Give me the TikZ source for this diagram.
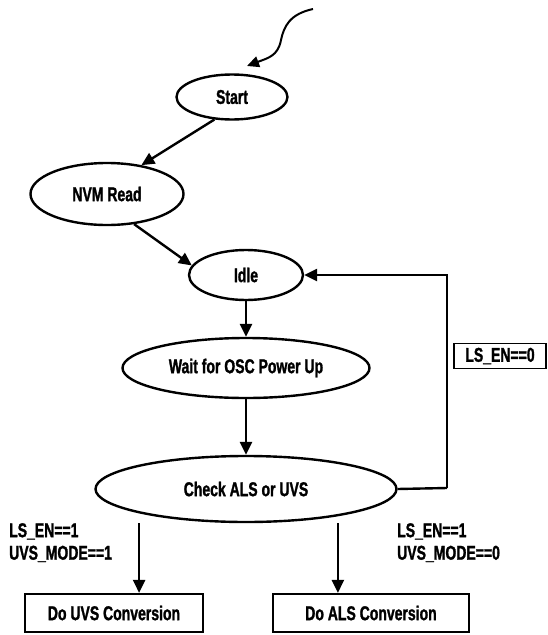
\documentclass[tikz,border=0pt]{standalone}
\usepackage{fontspec}
\setmainfont{Liberation Sans}[FakeStretch=0.7,BoldFeatures={FakeBold=1.3}]
\usetikzlibrary{arrows.meta,shapes.geometric}
\begin{document}
\begin{tikzpicture}[x=1pt,y=-1pt,
  every node/.style={font=\fontsize{20}{22.5}\selectfont\bfseries, inner sep=0pt},
  st/.style={ellipse, draw, line width=2.4pt},
  bx/.style={rectangle, draw, line width=2.2pt},
  arr/.style={line width=2.4pt, -{Triangle[length=13pt,width=12pt]}},
  ln/.style={line width=2.4pt}]
\useasboundingbox (0,0) rectangle (548,635);
\node[st, minimum width=111, minimum height=45] (start) at (232,97) {Start};
\node[st, minimum width=153, minimum height=62] (nvm) at (107,194) {NVM Read};
\node[st, minimum width=114, minimum height=50] (idle) at (246,275) {Idle};
\node[st, minimum width=247, minimum height=60] (wait) at (246,368) {Wait for OSC Power Up};
\node[st, minimum width=301, minimum height=66] (check) at (246,489) {Check ALS or UVS};
\node[bx, minimum width=178, minimum height=38] (uvs) at (114,613) {Do UVS Conversion};
\node[bx, minimum width=196, minimum height=38] (als) at (371,613) {Do ALS Conversion};
\node[bx, minimum width=92, minimum height=25, line width=1.8pt] (ls0) at (500,356) {LS\_EN==0};
\node[anchor=north west, align=left] (l1) at (9,523) {LS\_EN==1\\UVS\_MODE==1};
\node[anchor=north west, align=left] (l2) at (397,523) {LS\_EN==1\\UVS\_MODE==0};
\coordinate (src) at (313,9);
\coordinate (tip) at (247,66);
\coordinate (loop) at (447,488);
\draw[line width=2pt, -{Triangle[length=12pt,width=11pt]}] (src) .. controls (290,14) and (284,26) .. (281,40) .. controls (278,56) and (268,58) .. (tip);
\draw[arr] (start.232) -- (nvm.40);
\draw[arr] (nvm.312) -- (idle.170);
\draw[arr] (idle.south) -- (wait.north);
\draw[arr] (wait.south) -- (check.north);
\draw[ln] (check.east) -- (loop);
\draw[arr] (loop) |- (idle.east);
\draw[arr] (check.south -| uvs.east) ++(-65,0) coordinate (a1) -- (a1 |- uvs.north);
\draw[arr] (check.south -| als.west) ++(66,0) coordinate (a2) -- (a2 |- als.north);
\end{tikzpicture}
\end{document}
